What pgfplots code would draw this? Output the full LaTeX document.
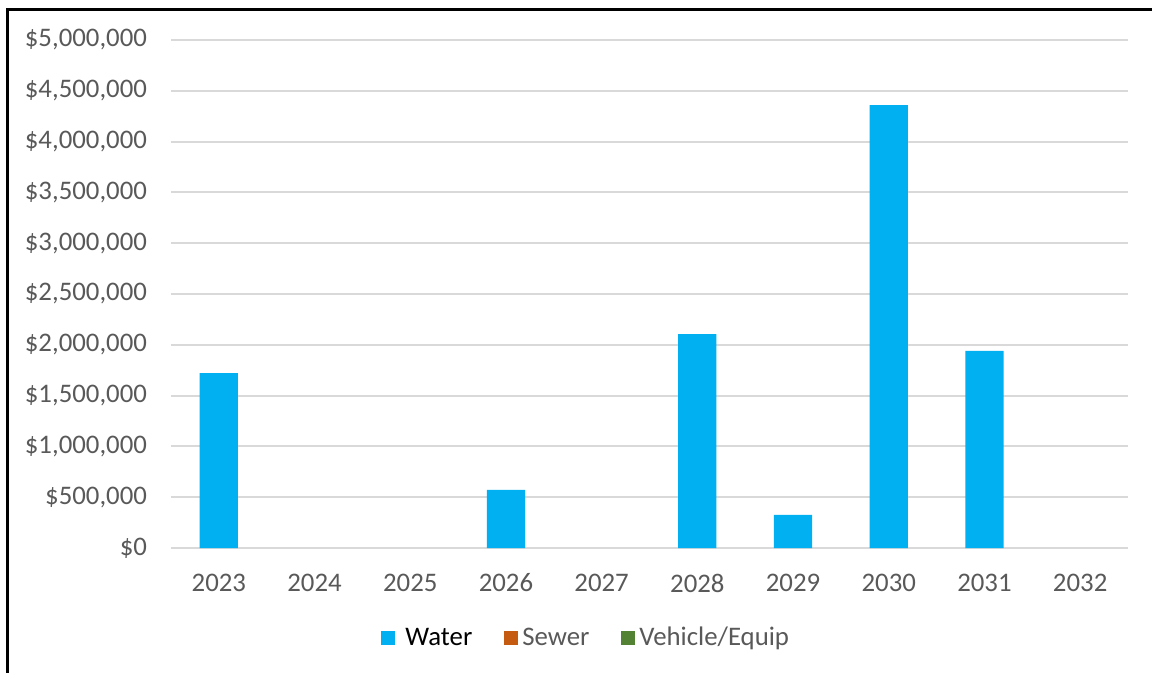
\documentclass[border=0pt]{standalone}
\usepackage{pgfplots}
\pgfplotsset{compat=1.18}
\usepackage{fontspec}
\setmainfont{Carlito}
\definecolor{water}{HTML}{00B0F0}
\definecolor{sewer}{HTML}{C55A11}
\definecolor{veh}{HTML}{548235}
\definecolor{txt}{HTML}{595959}
\definecolor{gridc}{HTML}{D9D9D9}
\begin{document}
\begin{tikzpicture}
\useasboundingbox (0,0) rectangle (576pt,-336.5pt);
\draw[line width=1.5pt,black] (3.75pt,-336.5pt) -- (3.75pt,-5pt) -- (576pt,-5pt);
\begin{axis}[
  at={(85.5pt,-274pt)}, anchor=south west,
  scale only axis, width=478.5pt, height=254pt,
  xmin=-0.5, xmax=9.5, ymin=0, ymax=5000000,
  ybar stacked, bar width=0.4,
  axis line style={draw=none},
  major tick length=0pt,
  xtick={0,...,9},
  xticklabels={2023,2024,2025,2026,2027,2028,2029,2030,2031,2032},
  ytick={0,500000,...,5000000},
  scaled y ticks=false,
  yticklabel={\$\pgfmathprintnumber[fixed,precision=0,1000 sep={,},assume math mode=true]{\tick}},
  ymajorgrids, grid style={draw=gridc, line width=1pt},
  tick label style={font=\fontsize{13.4}{15}\selectfont, text=txt},
  yticklabel style={xshift=-8.5pt},
  xticklabel style={yshift=-9.4pt},
  legend columns=3,
  legend style={at={(0.435,-0.177)}, anchor=center, draw=none, fill=none,
    font=\fontsize{13.4}{15}\selectfont, text=txt,
    /tikz/every even column/.append style={column sep=14pt}},
  legend image code/.code={\fill[#1] (0pt,-3.5pt) rectangle (7pt,3.5pt);},
]
\addplot[fill=water, draw=none] coordinates {(0,1722000) (1,0) (2,0) (3,571000) (4,0) (5,2106000) (6,325000) (7,4360000) (8,1939000) (9,0)};
\addplot[fill=sewer, draw=none] coordinates {(0,0) (1,0) (2,0) (3,0) (4,0) (5,0) (6,0) (7,0) (8,0) (9,0)};
\addplot[fill=veh, draw=none] coordinates {(0,0) (1,0) (2,0) (3,0) (4,0) (5,0) (6,0) (7,0) (8,0) (9,0)};
\legend{\hspace{3pt}{\color{black}Water},Sewer,Vehicle/Equip}
\end{axis}
\end{tikzpicture}
\end{document}
